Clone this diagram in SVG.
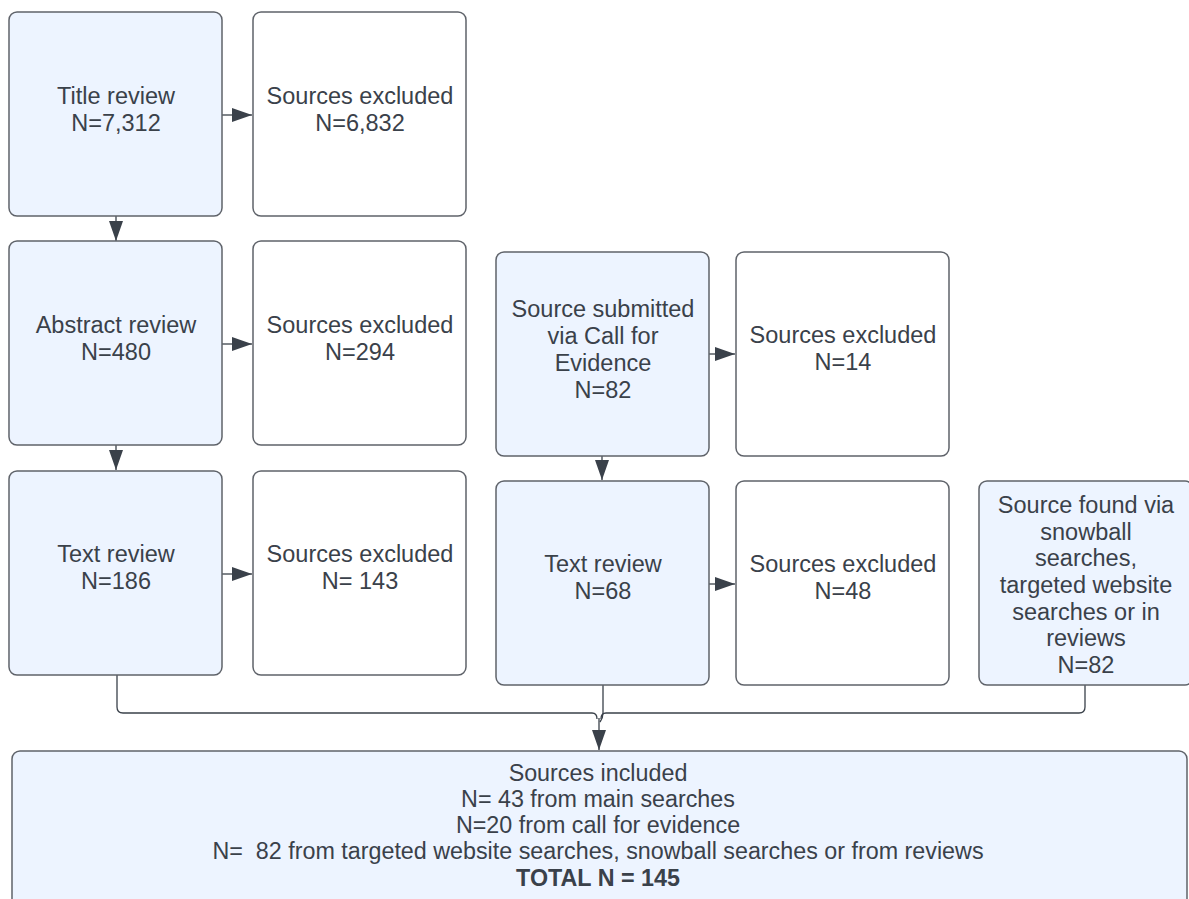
<svg xmlns="http://www.w3.org/2000/svg" width="1189" height="899" viewBox="0 0 1189 899">
<style>
.n rect{stroke:#5f636a;stroke-width:1.5}
.b{fill:#edf4ff}
.w{fill:#ffffff}
text{font-family:"Liberation Sans",Arial,sans-serif;font-size:23.5px;fill:#3a414a;text-anchor:middle}
#included text{font-size:23.3px}
.c{stroke:#3a414a;stroke-width:1.3;fill:none}
</style>
<defs>
<marker id="a" markerWidth="20" markerHeight="14" refX="20" refY="7" orient="auto" markerUnits="userSpaceOnUse">
<path d="M0,0 L20,7 L0,14 Z" fill="#3a414a"/>
</marker>
</defs>
<rect width="1189" height="899" fill="#ffffff"/>
<g id="connectors">
<path class="c" d="M222,115 H252" marker-end="url(#a)"/>
<path class="c" d="M116,216 V241" marker-end="url(#a)"/>
<path class="c" d="M222,344 H252" marker-end="url(#a)"/>
<path class="c" d="M116,445 V470" marker-end="url(#a)"/>
<path class="c" d="M222,574 H252" marker-end="url(#a)"/>
<path class="c" d="M709,354 H735" marker-end="url(#a)"/>
<path class="c" d="M602,456 V480" marker-end="url(#a)"/>
<path class="c" d="M709,584 H735" marker-end="url(#a)"/>
<path class="c" d="M117,675 V707 Q117,713 123,713 H592 Q597,713 597,719"/>
<path class="c" d="M603,685 V713 Q603,718 600,722"/>
<path class="c" d="M1085,685 V707 Q1085,713 1079,713 H606 Q601,713 601,719"/>
<path class="c" d="M599,718 V750" marker-end="url(#a)"/>
</g>
<g id="title" class="n"><rect class="b" x="9" y="12" width="213" height="204" rx="8"/><text x="116" y="104">Title review</text><text x="116" y="131">N=7,312</text></g>
<g id="excl1" class="n"><rect class="w" x="253" y="12" width="213" height="204" rx="8"/><text x="360" y="104">Sources excluded</text><text x="360" y="131">N=6,832</text></g>
<g id="abstract" class="n"><rect class="b" x="9" y="241" width="213" height="204" rx="8"/><text x="116" y="333">Abstract review</text><text x="116" y="360">N=480</text></g>
<g id="excl2" class="n"><rect class="w" x="253" y="241" width="213" height="204" rx="8"/><text x="360" y="333">Sources excluded</text><text x="360" y="360">N=294</text></g>
<g id="text1" class="n"><rect class="b" x="9" y="471" width="213" height="204" rx="8"/><text x="116" y="562">Text review</text><text x="116" y="589">N=186</text></g>
<g id="excl3" class="n"><rect class="w" x="253" y="471" width="213" height="204" rx="8"/><text x="360" y="562">Sources excluded</text><text x="360" y="589">N= 143</text></g>
<g id="call" class="n"><rect class="b" x="496" y="252" width="213" height="204" rx="8"/><text x="603" y="317">Source submitted</text><text x="603" y="344">via Call for</text><text x="603" y="371">Evidence</text><text x="603" y="398">N=82</text></g>
<g id="excl4" class="n"><rect class="w" x="736" y="252" width="213" height="204" rx="8"/><text x="843" y="343">Sources excluded</text><text x="843" y="370">N=14</text></g>
<g id="text2" class="n"><rect class="b" x="496" y="481" width="213" height="204" rx="8"/><text x="603" y="572">Text review</text><text x="603" y="599">N=68</text></g>
<g id="excl5" class="n"><rect class="w" x="736" y="481" width="213" height="204" rx="8"/><text x="843" y="572">Sources excluded</text><text x="843" y="599">N=48</text></g>
<g id="snowball" class="n"><rect class="b" x="979" y="481" width="214" height="204" rx="8"/><text x="1086" y="513">Source found via</text><text x="1086" y="540">snowball</text><text x="1086" y="566">searches,</text><text x="1086" y="593">targeted website</text><text x="1086" y="620">searches or in</text><text x="1086" y="646">reviews</text><text x="1086" y="673">N=82</text></g>
<g id="included" class="n"><rect class="b" x="12" y="751" width="1175" height="170" rx="8"/><text x="598" y="781">Sources included</text><text x="598" y="807">N= 43 from main searches</text><text x="598" y="833">N=20 from call for evidence</text><text x="598" y="859" xml:space="preserve">N=  82 from targeted website searches, snowball searches or from reviews</text><text x="598" y="886" font-weight="bold">TOTAL N = 145</text></g>
</svg>
